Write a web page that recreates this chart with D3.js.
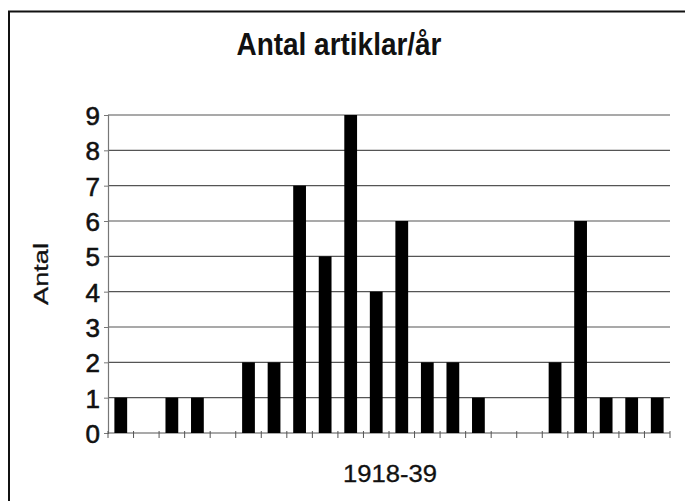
<!DOCTYPE html>
<html>
<head>
<meta charset="utf-8">
<script src="https://cdn.jsdelivr.net/npm/d3@7"></script>
<style>
  body { margin: 0; background: #fff; }
  text { font-family: "Liberation Sans", Arial, sans-serif; fill: #111; }
</style>
</head>
<body>
<div id="chart"></div>
<script>
const years = ['1918', '1919', '1920', '1921', '1922', '1923', '1924', '1925', '1926', '1927', '1928',
    '1929', '1930', '1931', '1932', '1933', '1934', '1935', '1936', '1937', '1938', '1939'];
const counts = [1, 0, 1, 1, 0, 2, 2, 7, 5, 9, 4, 6, 2, 2, 1, 0, 0, 2, 6, 1, 1, 1];
const yTicks = [0, 1, 2, 3, 4, 5, 6, 7, 8, 9];

const margin = { top: 115, right: 15, bottom: 68, left: 108 };
const width = 685 - margin.left - margin.right;
const height = 501 - margin.top - margin.bottom;

const svg = d3.select("#chart").append("svg")
    .attr("width", 685)
    .attr("height", 501);

// frame around the whole chart
svg.append("rect")
    .attr("x", 9)
    .attr("y", 11.5)
    .attr("width", 700)
    .attr("height", 520)
    .style("fill", "none")
    .style("stroke", "#111")
    .style("stroke-width", 2);

const g = svg.append("g")
    .attr("transform", "translate(" + margin.left + "," + margin.top + ")");

const x = d3.scaleBand()
    .domain(years)
    .range([0, width])
    .paddingInner(0.5)
    .paddingOuter(0.25);

const y = d3.scaleLinear()
    .domain([0, 9])
    .range([height, 0]);

// gridlines
g.selectAll(".grid")
    .data(yTicks.slice(1))
  .enter().append("line")
    .attr("class", "grid")
    .attr("x1", 0)
    .attr("x2", width)
    .attr("y1", d => y(d))
    .attr("y2", d => y(d))
    .style("stroke", "#555")
    .style("stroke-width", 1.2);

// y axis
const yAxis = g.append("g")
    .call(d3.axisLeft(y).tickValues(yTicks).tickSize(4).tickPadding(4));
yAxis.select(".domain").style("stroke", "#777").style("stroke-width", 1.2);
yAxis.selectAll(".tick line").style("stroke", "#777");
yAxis.selectAll("text")
    .style("font-size", "26px")
    .style("fill", "#111")
    .style("stroke", "#111")
    .style("stroke-width", 0.6)
    .attr("dy", "0.36em");

// x axis: ticks at category boundaries, no labels
const step = x.step();
const boundaries = d3.range(years.length + 1).map(i => x(years[0]) - x.paddingOuter() * step + i * step);
const xAxis = g.append("g")
    .attr("transform", "translate(0," + height + ")");
xAxis.append("line")
    .attr("x1", 0)
    .attr("x2", width)
    .style("stroke", "#555")
    .style("stroke-width", 1.2);
xAxis.selectAll(".xtick")
    .data(boundaries)
  .enter().append("line")
    .attr("class", "xtick")
    .attr("x1", d => d)
    .attr("x2", d => d)
    .attr("y1", -2)
    .attr("y2", 5)
    .style("stroke", "#555");

// bars
g.selectAll(".bar")
    .data(years.map((yr, i) => ({ year: yr, value: counts[i] })).filter(d => d.value > 0))
  .enter().append("rect")
    .attr("class", "bar")
    .attr("x", d => x(d.year))
    .attr("width", x.bandwidth())
    .attr("y", d => y(d.value))
    .attr("height", d => height - y(d.value))
    .style("fill", "#000");

// title
svg.append("text")
    .attr("x", 339)
    .attr("y", 55)
    .attr("text-anchor", "middle")
    .attr("textLength", 205)
    .attr("lengthAdjust", "spacingAndGlyphs")
    .style("font-size", "31px")
    .style("font-weight", "bold")
    .text("Antal artiklar/år");

// axis titles
svg.append("text")
    .attr("transform", "translate(48,274) rotate(-90)")
    .attr("text-anchor", "middle")
    .attr("textLength", 62)
    .attr("lengthAdjust", "spacingAndGlyphs")
    .style("font-size", "21px")
    .style("stroke", "#111")
    .style("stroke-width", 0.3)
    .text("Antal");

svg.append("text")
    .attr("x", 390)
    .attr("y", 482)
    .attr("text-anchor", "middle")
    .attr("textLength", 94)
    .attr("lengthAdjust", "spacingAndGlyphs")
    .style("font-size", "23px")
    .style("stroke", "#111")
    .style("stroke-width", 0.3)
    .text("1918-39");
</script>
</body>
</html>
